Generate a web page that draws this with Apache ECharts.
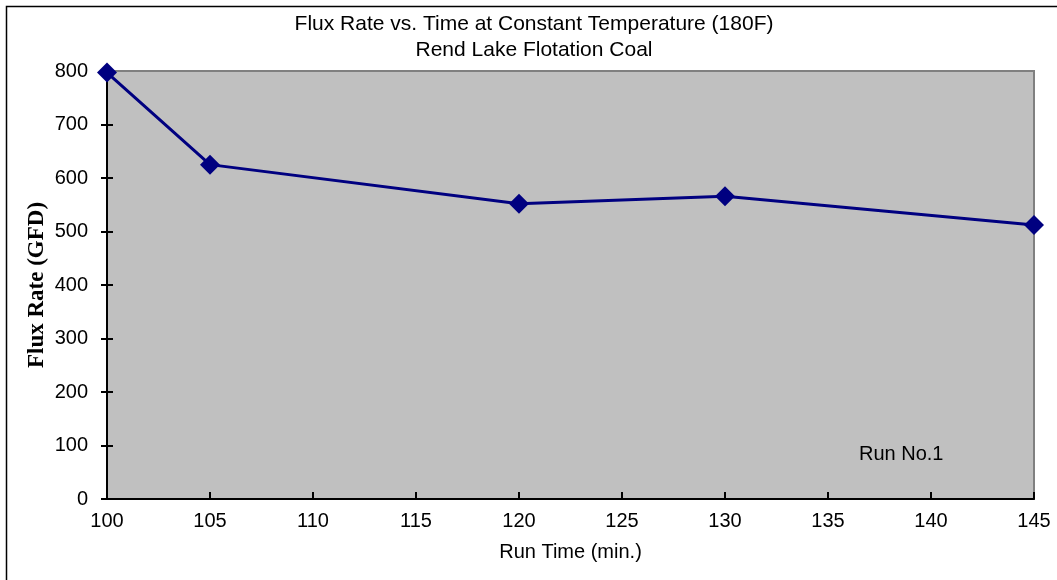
<!DOCTYPE html>
<html>
<head>
<meta charset="utf-8">
<script src="https://cdn.jsdelivr.net/npm/echarts@6/dist/echarts.min.js"></script>
<style>
  html, body { margin: 0; padding: 0; background: #fff; }
  #chart_div { width: 1057px; height: 580px; }
</style>
</head>
<body>
<div id="chart_div"></div>
<script>
// data
var runTime = [100, 105, 120, 130, 145];
var fluxRate = [797, 625, 552, 566, 512];
var xTicks = [100, 105, 110, 115, 120, 125, 130, 135, 140, 145];
var yTicks = [0, 100, 200, 300, 400, 500, 600, 700, 800];

var font = 'Arial, "Liberation Sans", sans-serif';
var points = runTime.map(function (t, i) { return [t, fluxRate[i]]; });

var myChart = echarts.init(document.getElementById('chart_div'));
var option = {
    backgroundColor: '#ffffff',
    animation: false,
    title: {
        text: 'Flux Rate vs. Time at Constant Temperature (180F)\nRend Lake Flotation Coal',
        left: 529,
        textAlign: 'center',
        top: 6,
        textStyle: {
            fontFamily: font,
            fontSize: 21,
            fontWeight: 'normal',
            color: '#000',
            lineHeight: 26
        }
    },
    grid: {
        left: 107,
        right: 23,
        top: 71,
        bottom: 81,
        show: true,
        backgroundColor: '#c0c0c0',
        borderColor: '#808080',
        borderWidth: 2
    },
    xAxis: {
        type: 'value',
        min: xTicks[0],
        max: xTicks[xTicks.length - 1],
        interval: 5,
        name: 'Run Time (min.)',
        nameLocation: 'middle',
        nameGap: 43,
        nameTextStyle: { fontFamily: font, fontSize: 20, color: '#000' },
        axisLine: { show: true, onZero: false, lineStyle: { color: '#000', width: 2 } },
        axisTick: { show: true, inside: true, length: 7, lineStyle: { color: '#000', width: 2 } },
        axisLabel: { fontFamily: font, fontSize: 20, color: '#000', margin: 12 },
        splitLine: { show: false }
    },
    yAxis: [{
        type: 'value',
        min: yTicks[0],
        max: yTicks[yTicks.length - 1],
        interval: 100,
        name: 'Flux Rate (GFD)',
        nameLocation: 'middle',
        nameGap: 58,
        nameMoveOverlap: false,
        nameRotate: 90,
        nameTextStyle: {
            fontFamily: '"Liberation Serif", "Times New Roman", serif',
            fontSize: 23,
            fontWeight: 'bold',
            color: '#000'
        },
        axisLine: { show: true, onZero: false, lineStyle: { color: '#000', width: 2 } },
        axisTick: { show: true, length: 6, lineStyle: { color: '#000', width: 2 } },
        axisLabel: { fontFamily: font, fontSize: 20, color: '#000', margin: 19 },
        splitLine: { show: false }
    }, {
        // same scale again, only to draw the inner half of the crossing ticks
        type: 'value',
        position: 'left',
        min: yTicks[0],
        max: yTicks[yTicks.length - 1],
        interval: 100,
        axisLine: { show: false },
        axisTick: { show: true, inside: true, length: 6, lineStyle: { color: '#000', width: 2 } },
        axisLabel: { show: false },
        splitLine: { show: false }
    }],
    graphic: [{
        type: 'rect',
        left: 4,
        top: 4,
        shape: { width: 1100, height: 620 },
        style: { fill: 'none', stroke: '#000', lineWidth: 1.5 },
        z: -1
    }, {
        type: 'text',
        left: 859,
        top: 444,
        style: { text: 'Run No.1', font: '20px ' + font, fill: '#000' },
        z: 10
    }],
    series: [{
        name: 'Run No.1',
        type: 'line',
        data: points,
        symbol: 'diamond',
        symbolSize: 20,
        lineStyle: { color: '#000080', width: 3 },
        itemStyle: { color: '#000080' },
        z: 5
    }]
};
myChart.setOption(option);
</script>
</body>
</html>
